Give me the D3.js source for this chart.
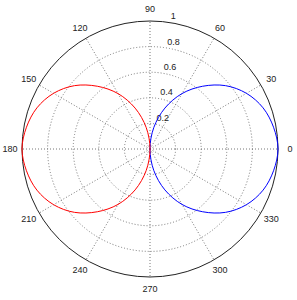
<!DOCTYPE html>
<html>
<head>
<meta charset="utf-8">
<script src="https://cdn.jsdelivr.net/npm/d3@7"></script>
<style>
  body { margin: 0; background: #fff; }
  text { font-family: "Liberation Sans", Arial, sans-serif; font-size: 9px; fill: #222; }
</style>
</head>
<body>
<script>
// polar data (angle in degrees, radius 0..1)
const blueAngles = [-90, -80, -70, -60, -50, -40, -30, -20, -10, 0, 10, 20, 30, 40, 50, 60, 70, 80];
const blueR      = [0, 0.17, 0.34, 0.5, 0.64, 0.77, 0.87, 0.94, 0.98, 1, 0.98, 0.94, 0.87, 0.77, 0.64, 0.5, 0.34, 0.17];
const redAngles  = [90, 100, 110, 120, 130, 140, 150, 160, 170, 180, 190, 200, 210, 220, 230, 240, 250, 260];
const redR       = [0, 0.17, 0.34, 0.5, 0.64, 0.77, 0.87, 0.94, 0.98, 1, 0.98, 0.94, 0.87, 0.77, 0.64, 0.5, 0.34, 0.17];
const ringTicks  = [0.2, 0.4, 0.6, 0.8, 1];
const ringLabels = ["0.2", "0.4", "0.6", "0.8", "1"];
const spokeAngles = [0, 30, 60, 90, 120, 150, 180, 210, 240, 270, 300, 330];

const width = 297, height = 300;
const cx = 150, cy = 149, R = 128;

const svg = d3.select("body").append("svg")
  .attr("width", width)
  .attr("height", height);

const g = svg.append("g")
  .attr("transform", "translate(" + cx + "," + cy + ")");

const r = d3.scaleLinear().domain([0, 1]).range([0, R]);
const rad = (deg) => deg * Math.PI / 180;
const px = (deg, v) => r(v) * Math.cos(rad(deg));
const py = (deg, v) => -r(v) * Math.sin(rad(deg));

// dotted rings
g.selectAll(".ring")
  .data(ringTicks.slice(0, -1))
  .enter().append("circle")
  .attr("r", d => r(d))
  .attr("fill", "none")
  .attr("stroke", "#777")
  .attr("stroke-width", 1)
  .attr("stroke-dasharray", "1,2");

// dotted spokes
g.selectAll(".spoke")
  .data(spokeAngles)
  .enter().append("line")
  .attr("x1", 0).attr("y1", 0)
  .attr("x2", d => px(d, 1))
  .attr("y2", d => py(d, 1))
  .attr("stroke", "#777")
  .attr("stroke-width", 1)
  .attr("stroke-dasharray", "1,2");

// outer circle
g.append("circle")
  .attr("r", r(1))
  .attr("fill", "none")
  .attr("stroke", "#222")
  .attr("stroke-width", 1);

// ring labels
g.selectAll(".rlabel")
  .data(ringTicks)
  .enter().append("text")
  .attr("x", d => px(82, d) + 3)
  .attr("y", d => py(82, d) - 3)
  .text((d, i) => ringLabels[i]);

// angle labels
g.selectAll(".alabel")
  .data(spokeAngles)
  .enter().append("text")
  .attr("x", d => r(1.094) * Math.cos(rad(d)))
  .attr("y", d => -r(1.094) * Math.sin(rad(d)))
  .attr("text-anchor", "middle")
  .attr("dominant-baseline", "central")
  .text(d => d);

// curves
const line = d3.lineRadial()
  .angle(d => Math.PI / 2 - rad(d[0]))
  .radius(d => r(d[1]))
  .curve(d3.curveCatmullRomClosed);

g.append("path")
  .attr("d", line(blueAngles.map((a, i) => [a, blueR[i]])))
  .attr("fill", "none")
  .attr("stroke", "#0000ff")
  .attr("stroke-width", 1);

g.append("path")
  .attr("d", line(redAngles.map((a, i) => [a, redR[i]])))
  .attr("fill", "none")
  .attr("stroke", "#ff0000")
  .attr("stroke-width", 1);
</script>
</body>
</html>
